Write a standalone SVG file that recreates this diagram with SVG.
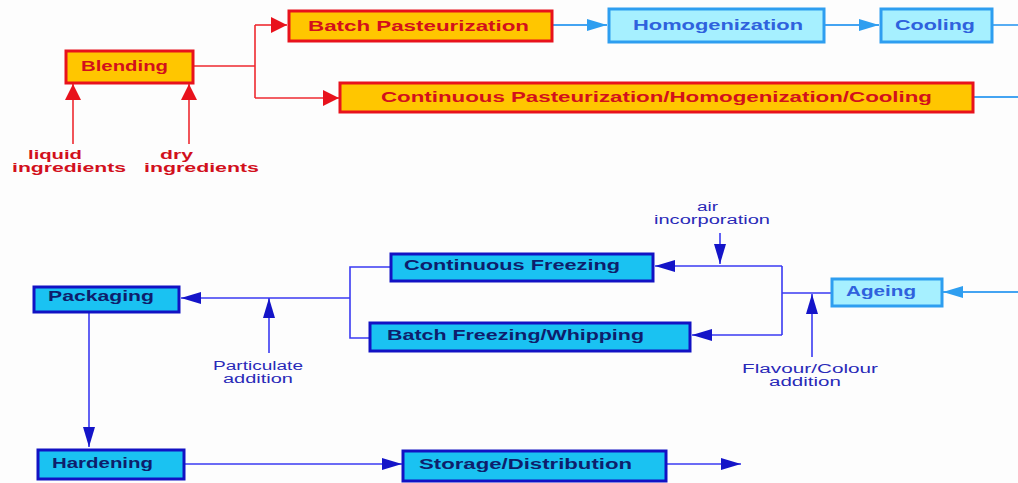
<svg xmlns="http://www.w3.org/2000/svg" width="1018" height="483" viewBox="0 0 1018 483">
<defs>
<style>
.t{font-family:"Liberation Sans",Arial,sans-serif;font-weight:bold;font-size:14.5px}
.s{font-size:12px}
.a{font-family:"Liberation Sans",Arial,sans-serif;font-size:12px;fill:#2a2ab8}
.rbox{fill:#FFC600;stroke:#E8121C;stroke-width:3}
.rt{fill:#D2101C}
.lbox{fill:#A6F0FF;stroke:#2E9EF0;stroke-width:3}
.lt{fill:#2F62DD}
.dbox{fill:#1AC2F2;stroke:#1212C4;stroke-width:3}
.dt{fill:#0E1E6C}
.rl{fill:none;stroke:#EE2A30;stroke-width:1.6}
.ll{fill:none;stroke:#44A4F2;stroke-width:1.8}
.dl{fill:none;stroke:#3A3AF2;stroke-width:1.6}
</style>
<marker id="mr" markerUnits="userSpaceOnUse" markerWidth="16" markerHeight="16" refX="16" refY="8" orient="auto"><path d="M0,0 L16,8 L0,16 Z" fill="#E8121C"/></marker>
<marker id="ml" markerUnits="userSpaceOnUse" markerWidth="20" markerHeight="14" refX="20" refY="7" orient="auto"><path d="M0,1 L20,7 L0,13 Z" fill="#2E9EF0"/></marker>
<marker id="md" markerUnits="userSpaceOnUse" markerWidth="20" markerHeight="14" refX="20" refY="7" orient="auto"><path d="M0,1 L20,7 L0,13 Z" fill="#1414C8"/></marker>
</defs>
<rect width="1018" height="483" fill="#FDFDFD"/>
<g id="connectors">
<path class="rl" d="M193,66 H255 M255,25 V98"/>
<path class="rl" d="M255,25 H287" marker-end="url(#mr)"/>
<path class="rl" d="M255,98 H339" marker-end="url(#mr)"/>
<path class="rl" d="M73,144 V84" marker-end="url(#mr)"/>
<path class="rl" d="M189,144 V84" marker-end="url(#mr)"/>
<path class="ll" d="M552,25 H607" marker-end="url(#ml)"/>
<path class="ll" d="M825,25 H879" marker-end="url(#ml)"/>
<path class="ll" d="M993,25 H1018"/>
<path class="ll" d="M974,97 H1018"/>
<path class="ll" d="M1018,292 H943" marker-end="url(#ml)"/>
<path class="dl" d="M832,293 H782 M782,266 V335"/>
<path class="dl" d="M782,266 H655" marker-end="url(#md)"/>
<path class="dl" d="M782,335 H692" marker-end="url(#md)"/>
<path class="dl" d="M720,233 V264" marker-end="url(#md)"/>
<path class="dl" d="M812,357 V294" marker-end="url(#md)"/>
<path class="dl" d="M390,267 H350 V338 H370"/>
<path class="dl" d="M350,298 H181" marker-end="url(#md)"/>
<path class="dl" d="M269,353 V298" marker-end="url(#md)"/>
<path class="dl" d="M89,313 V447" marker-end="url(#md)"/>
<path class="dl" d="M185,464 H402" marker-end="url(#md)"/>
<path class="dl" d="M667,464 H741" marker-end="url(#md)"/>
</g>
<g id="blending"><rect class="rbox" x="66" y="51" width="127" height="32"/><text class="t rt" x="81" y="71" textLength="87" lengthAdjust="spacingAndGlyphs">Blending</text></g>
<g id="liquid"><text class="t s rt" x="28" y="158.5" textLength="54" lengthAdjust="spacingAndGlyphs">liquid</text><text class="t s rt" x="12" y="172" textLength="114" lengthAdjust="spacingAndGlyphs">ingredients</text></g>
<g id="dry"><text class="t s rt" x="160" y="158.5" textLength="33" lengthAdjust="spacingAndGlyphs">dry</text><text class="t s rt" x="144" y="172" textLength="115" lengthAdjust="spacingAndGlyphs">ingredients</text></g>
<g id="batch-past"><rect class="rbox" x="289" y="11" width="263" height="30"/><text class="t rt" x="308" y="31" textLength="221" lengthAdjust="spacingAndGlyphs">Batch Pasteurization</text></g>
<g id="homog"><rect class="lbox" x="609" y="9" width="215" height="33"/><text class="t lt" x="633" y="30" textLength="170" lengthAdjust="spacingAndGlyphs">Homogenization</text></g>
<g id="cooling"><rect class="lbox" x="881" y="9" width="111" height="33"/><text class="t lt" x="895" y="30" textLength="80" lengthAdjust="spacingAndGlyphs">Cooling</text></g>
<g id="cont-past"><rect class="rbox" x="340" y="83" width="633" height="29"/><text class="t rt" x="381" y="102" textLength="551" lengthAdjust="spacingAndGlyphs">Continuous Pasteurization/Homogenization/Cooling</text></g>
<g id="ageing"><rect class="lbox" x="832" y="279" width="110" height="27"/><text class="t lt" x="846" y="296" textLength="70" lengthAdjust="spacingAndGlyphs">Ageing</text></g>
<g id="cont-freez"><rect class="dbox" x="391" y="254" width="262" height="27"/><text class="t dt" x="404" y="270" textLength="216" lengthAdjust="spacingAndGlyphs">Continuous Freezing</text></g>
<g id="batch-freez"><rect class="dbox" x="370" y="323" width="320" height="28"/><text class="t dt" x="387" y="340" textLength="257" lengthAdjust="spacingAndGlyphs">Batch Freezing/Whipping</text></g>
<g id="packaging"><rect class="dbox" x="34" y="287" width="145" height="25"/><text class="t dt" x="48" y="301" textLength="106" lengthAdjust="spacingAndGlyphs">Packaging</text></g>
<g id="hardening"><rect class="dbox" x="38" y="450" width="146" height="29"/><text class="t dt" x="52" y="468" textLength="101" lengthAdjust="spacingAndGlyphs">Hardening</text></g>
<g id="storage"><rect class="dbox" x="403" y="451" width="263" height="30"/><text class="t dt" x="419" y="469" textLength="213" lengthAdjust="spacingAndGlyphs">Storage/Distribution</text></g>
<g id="air"><text class="a" x="697" y="210.5" textLength="21" lengthAdjust="spacingAndGlyphs">air</text><text class="a" x="654" y="224" textLength="116" lengthAdjust="spacingAndGlyphs">incorporation</text></g>
<g id="particulate"><text class="a" x="213" y="369.5" textLength="90" lengthAdjust="spacingAndGlyphs">Particulate</text><text class="a" x="223" y="383" textLength="70" lengthAdjust="spacingAndGlyphs">addition</text></g>
<g id="flavour"><text class="a" x="742" y="372.5" textLength="136" lengthAdjust="spacingAndGlyphs">Flavour/Colour</text><text class="a" x="769" y="386" textLength="72" lengthAdjust="spacingAndGlyphs">addition</text></g>
</svg>
